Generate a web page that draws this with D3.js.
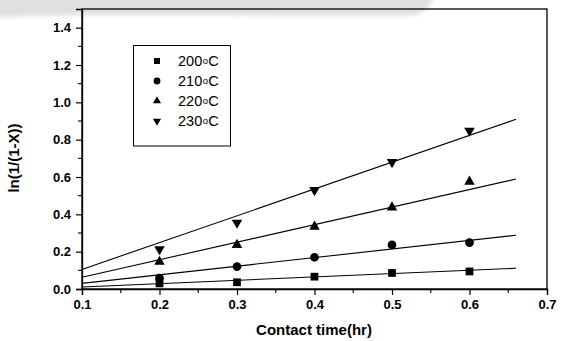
<!DOCTYPE html>
<html>
<head>
<meta charset="utf-8">
<script src="https://cdn.jsdelivr.net/npm/d3@7"></script>
<style>
  html, body { margin: 0; padding: 0; background: #fff; }
  svg { display: block; }
</style>
</head>
<body>
<script>
// Contact time (hr) at which conversion was measured
const contactTimes = [0.2, 0.3, 0.4, 0.5, 0.6];

// Series labels (reaction temperature, drawn as "<value>°C")
const seriesTemps = ["200", "210", "220", "230"];

// ln(1/(1-X)) measured values per temperature
const values200 = [0.030, 0.036, 0.066, 0.086, 0.094];
const values210 = [0.058, 0.120, 0.170, 0.236, 0.248];
const values220 = [0.146, 0.236, 0.334, 0.437, 0.575];
const values230 = [0.213, 0.355, 0.530, 0.680, 0.848];

// Fitted straight lines: x extent and y at each end
const fitX = [0.1, 0.66];
const fit200 = [0.011, 0.111];
const fit210 = [0.030, 0.288];
const fit220 = [0.063, 0.589];
const fit230 = [0.105, 0.909];

// Axis ticks
const xTicks = [0.1, 0.2, 0.3, 0.4, 0.5, 0.6, 0.7];
const yTicks = [0.0, 0.2, 0.4, 0.6, 0.8, 1.0, 1.2, 1.4];

const W = 566, H = 341;
const mLeft = 82, mRight = 547, mTop = 9, mBottom = 289;

const x = d3.scaleLinear().domain([0.1, 0.7]).range([mLeft, mRight]);
const y = d3.scaleLinear().domain([0, 1.5]).range([mBottom, mTop]);

const svg = d3.select("body").append("svg")
  .attr("width", W).attr("height", H);

// faint grey band across the top edge
const defs = svg.append("defs");
defs.append("filter").attr("id", "soft")
  .append("feGaussianBlur").attr("stdDeviation", 2);
svg.append("path")
  .attr("d", "M-10,-10 L432,-10 L432,2 Q426,16 404,16 L120,15 Q40,15 -10,18 Z")
  .attr("fill", "#e0e0e0")
  .attr("filter", "url(#soft)");

// plot frame
svg.append("rect")
  .attr("x", mLeft).attr("y", mTop)
  .attr("width", mRight - mLeft).attr("height", mBottom - mTop)
  .attr("fill", "none").attr("stroke", "#000").attr("stroke-width", 1.3);

const font = "'Liberation Sans', Arial, sans-serif";

// x axis
const xAxis = d3.axisBottom(x).tickValues(xTicks)
  .tickFormat(d3.format(".1f")).tickSize(6).tickPadding(5);
const gx = svg.append("g").attr("transform", `translate(0,${mBottom})`).call(xAxis);
gx.select(".domain").attr("stroke-width", 1.3);
gx.selectAll(".tick line").attr("stroke-width", 1.2);
gx.selectAll("text").attr("font-family", font).attr("font-weight", "bold")
  .attr("font-size", 13).attr("fill", "#000");
// minor x ticks
const xMinor = d3.range(0.15, 0.7, 0.1);
svg.append("g").selectAll("line").data(xMinor).join("line")
  .attr("x1", d => x(d)).attr("x2", d => x(d))
  .attr("y1", mBottom).attr("y2", mBottom + 4)
  .attr("stroke", "#000").attr("stroke-width", 1.1);

// y axis
const yAxis = d3.axisLeft(y).tickValues(yTicks)
  .tickFormat(d3.format(".1f")).tickSize(6).tickPadding(5);
const gy = svg.append("g").attr("transform", `translate(${mLeft},0)`).call(yAxis);
gy.select(".domain").attr("stroke-width", 1.3);
gy.selectAll(".tick line").attr("stroke-width", 1.2);
gy.selectAll("text").attr("font-family", font).attr("font-weight", "bold")
  .attr("font-size", 13).attr("fill", "#000");
const yMinor = d3.range(0.1, 1.5, 0.2);
svg.append("g").selectAll("line").data(yMinor).join("line")
  .attr("x1", mLeft - 4).attr("x2", mLeft)
  .attr("y1", d => y(d)).attr("y2", d => y(d))
  .attr("stroke", "#000").attr("stroke-width", 1.1);

// axis titles
svg.append("text")
  .attr("x", 314).attr("y", 335)
  .attr("text-anchor", "middle")
  .attr("font-family", font).attr("font-weight", "bold").attr("font-size", 15)
  .text("Contact time(hr)");
svg.append("text")
  .attr("transform", `translate(19,158) rotate(-90)`)
  .attr("text-anchor", "middle")
  .attr("font-family", font).attr("font-weight", "bold").attr("font-size", 15)
  .text("ln(1/(1-X))");

// series
const symbols = [d3.symbolSquare, d3.symbolCircle, d3.symbolTriangle, d3.symbolTriangle];
const rotations = [0, 0, 0, 180];
const sizes = [60, 60, 48, 48];
const allValues = [values200, values210, values220, values230];
const allFits = [fit200, fit210, fit220, fit230];

const line = d3.line().x(d => x(d[0])).y(d => y(d[1]));

allFits.forEach(f => {
  svg.append("path")
    .attr("d", line(fitX.map((t, i) => [t, f[i]])))
    .attr("fill", "none").attr("stroke", "#000").attr("stroke-width", 1.1);
});

allValues.forEach((vals, s) => {
  svg.append("g").selectAll("path").data(vals).join("path")
    .attr("transform", (v, i) =>
      `translate(${x(contactTimes[i])},${y(v)}) rotate(${rotations[s]})`)
    .attr("d", d3.symbol().type(symbols[s]).size(sizes[s]))
    .attr("fill", "#000");
});

// legend
const lg = svg.append("g");
lg.append("rect")
  .attr("x", 133.5).attr("y", 45.5).attr("width", 97).attr("height", 100.5)
  .attr("fill", "#fff").attr("stroke", "#000").attr("stroke-width", 1);
seriesTemps.forEach((t, s) => {
  const cy = 61 + s * 20;
  lg.append("path")
    .attr("transform", `translate(157,${cy}) rotate(${rotations[s]})`)
    .attr("d", d3.symbol().type(symbols[s]).size(sizes[s] * 0.6))
    .attr("fill", "#000");
  const txt = lg.append("text")
    .attr("x", 178).attr("y", cy + 5)
    .attr("font-family", font).attr("font-size", 14.5);
  txt.append("tspan").text(t);
  txt.append("tspan").attr("font-size", 9.5).attr("dy", -2.5).attr("dx", 0.5).text("o");
  txt.append("tspan").attr("dy", 2.5).attr("dx", 0.3).text("C");
});
</script>
</body>
</html>
